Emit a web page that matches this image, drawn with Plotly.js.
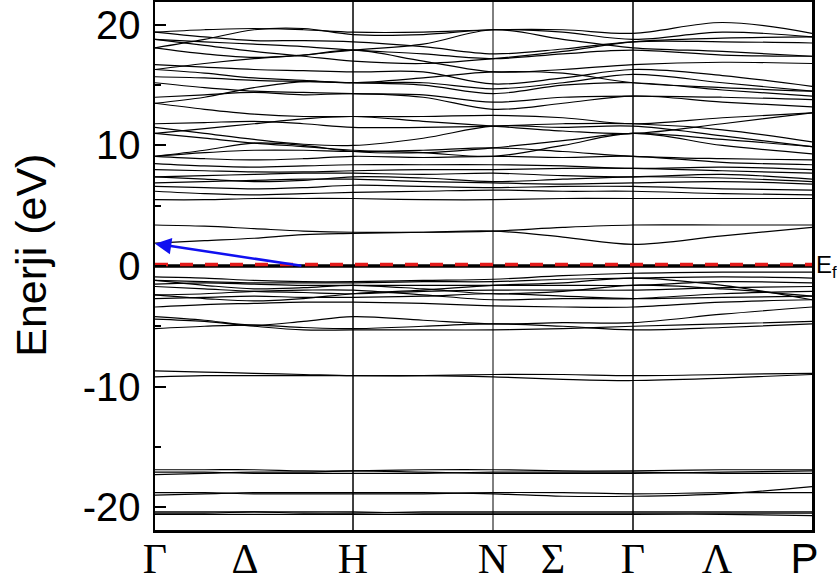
<!DOCTYPE html>
<html>
<head>
<meta charset="utf-8">
<script src="https://cdn.plot.ly/plotly-3.0.1.min.js"></script>
<style>html,body{margin:0;padding:0;background:#fff;}#chart{width:837px;height:586px;}</style>
</head>
<body>
<div id="chart"></div>
<script>
// k-path sample positions: Γ, .25, .5, .75, H, mid, N, mid, Γ, Λ-mid, P
const kpts = [0, 0.25, 0.5, 0.75, 1.0, 1.354, 1.707, 2.06, 2.414, 2.866, 3.318];
const symPos = [0, 0.455, 1.0, 1.707, 2.01, 2.414, 2.838, 3.28];
const symLabels = ['Γ', 'Δ', 'H', 'N', 'Σ', 'Γ', 'Λ', '<span style="font-family:Liberation Sans, Arial">P</span>'];
const vLines = [1.0, 1.707, 2.414];
const yTickVals = [-20, -10, 0, 10, 20];
const yTickText = ['-20', '-10', '0', '10', '20'];

const coreBands = [
  [-20.6, -20.6, -20.6, -20.6, -20.6, -20.6, -20.6, -20.6, -20.6, -20.6, -20.7],
  [-20.4, -20.4, -20.4, -20.5, -20.5, -20.4, -20.4, -20.4, -20.4, -20.4, -20.4],
  [-20.5, -20.5, -20.4, -20.4, -20.4, -20.5, -20.5, -20.5, -20.5, -20.5, -20.5],
  [-19.0, -18.9, -18.8, -18.8, -18.8, -18.8, -18.9, -19.1, -19.1, -18.9, -18.3],
  [-18.8, -18.8, -18.9, -18.9, -18.9, -18.9, -18.8, -18.8, -18.9, -18.8, -18.8],
  [-17.1, -17.1, -17.2, -17.2, -17.2, -17.2, -17.1, -17.1, -17.1, -17.2, -17.2],
  [-16.9, -16.9, -16.9, -17.0, -17.0, -16.9, -16.9, -17.0, -17.0, -16.9, -16.9],
  [-17.3, -17.2, -17.1, -17.1, -17.0, -17.1, -17.2, -17.2, -17.2, -17.1, -17.0],
  [-8.7, -8.8, -8.9, -9.0, -9.1, -9.1, -9.2, -9.4, -9.5, -9.3, -9.0],
  [-9.2, -9.1, -9.1, -9.1, -9.1, -9.1, -9.0, -9.0, -9.1, -9.0, -8.9]
];

const valenceBands = [
  [-0.9, -1.0, -1.2, -1.3, -1.3, -1.2, -1.1, -0.8, -0.6, -0.5, -0.5],
  [-1.2, -1.3, -1.4, -1.4, -1.4, -1.3, -1.3, -1.1, -1.0, -0.9, -1.0],
  [-1.5, -1.4, -1.5, -1.6, -1.6, -1.6, -1.6, -1.6, -1.6, -1.3, -1.4],
  [-1.7, -1.9, -2.1, -2.2, -2.3, -2.1, -2.0, -2.0, -2.0, -1.8, -1.7],
  [-2.4, -2.3, -2.1, -2.0, -2.0, -2.4, -2.8, -2.7, -2.7, -2.3, -2.1],
  [-2.7, -2.6, -2.5, -2.6, -2.6, -2.5, -2.3, -2.5, -2.7, -2.6, -2.5],
  [-3.4, -3.2, -3.1, -3.0, -3.0, -3.1, -3.3, -3.4, -3.4, -3.0, -2.8],
  [-4.2, -4.5, -4.9, -4.6, -4.2, -4.5, -4.8, -4.7, -4.7, -4.0, -3.4],
  [-5.2, -5.0, -4.9, -5.1, -5.2, -5.0, -4.8, -5.0, -5.3, -5.1, -4.8],
  [-4.4, -4.6, -5.0, -5.3, -5.3, -5.3, -5.3, -5.2, -5.0, -4.8, -4.6],
  [-1.2, -1.6, -1.9, -1.8, -1.6, -1.9, -2.3, -2.1, -1.6, -1.9, -2.5],
  [-2.4, -2.7, -2.9, -2.7, -2.3, -2.0, -1.6, -1.4, -1.0, -1.6, -2.8]
];

const conductionBands = [
  [1.9, 2.1, 2.3, 2.6, 2.7, 2.8, 2.9, 2.4, 1.8, 2.5, 3.2],
  [3.4, 3.3, 3.1, 2.9, 2.8, 2.8, 2.9, 3.2, 3.4, 3.4, 3.4],
  [5.5, 5.5, 5.6, 5.6, 5.6, 5.5, 5.5, 5.6, 5.6, 5.6, 5.6],
  [6.2, 6.0, 5.9, 6.0, 6.1, 6.2, 6.3, 6.2, 6.2, 6.0, 5.9],
  [6.6, 6.5, 6.4, 6.5, 6.7, 6.6, 6.5, 6.6, 6.6, 6.4, 6.3],
  [6.9, 7.0, 7.1, 7.2, 7.2, 7.0, 6.9, 6.8, 6.9, 7.0, 6.8],
  [7.4, 7.5, 7.6, 7.7, 7.7, 7.6, 7.7, 7.5, 7.4, 7.6, 7.2],
  [7.4, 7.2, 7.0, 7.1, 7.4, 7.3, 7.0, 7.2, 7.4, 7.3, 7.0],
  [8.0, 7.9, 7.8, 7.8, 7.9, 8.0, 8.0, 8.1, 8.1, 7.9, 7.7],
  [8.5, 8.3, 8.2, 8.3, 8.4, 8.4, 8.4, 8.3, 8.1, 8.2, 8.0],
  [9.1, 8.9, 8.8, 8.9, 9.1, 9.0, 9.1, 9.0, 9.1, 8.6, 8.4],
  [9.1, 9.4, 9.6, 9.6, 9.5, 9.6, 9.8, 9.5, 9.1, 8.9, 8.8],
  [9.1, 9.6, 10.2, 10.0, 9.5, 9.4, 9.8, 10.4, 11.0, 10.5, 9.9],
  [11.0, 10.6, 10.2, 9.9, 9.6, 9.4, 9.1, 10.0, 11.0, 10.0, 9.3],
  [11.5, 11.0, 10.5, 10.1, 10.0, 10.6, 11.6, 11.5, 11.6, 10.8, 9.9],
  [11.8, 11.9, 12.0, 11.8, 11.5, 11.5, 11.6, 11.8, 11.8, 11.3, 10.3],
  [11.0, 11.4, 11.8, 12.2, 12.4, 12.0, 11.6, 11.2, 11.0, 11.8, 12.7],
  [13.5, 13.0, 12.6, 12.4, 12.4, 12.4, 12.5, 12.3, 11.8, 12.3, 12.7],
  [13.5, 14.0, 14.8, 15.3, 15.2, 15.6, 16.1, 16.0, 15.2, 14.8, 14.5],
  [14.0, 14.2, 14.4, 14.2, 14.3, 14.0, 13.0, 13.5, 14.1, 13.6, 13.2],
  [15.2, 14.8, 14.5, 14.4, 14.3, 14.2, 13.6, 14.0, 14.1, 14.0, 13.8],
  [15.7, 15.6, 15.4, 15.3, 15.2, 15.0, 14.3, 15.0, 15.2, 14.6, 14.1],
  [16.3, 16.0, 15.6, 15.4, 15.2, 15.2, 14.7, 15.2, 15.9, 15.2, 14.5],
  [16.7, 16.5, 16.3, 16.2, 16.1, 16.1, 15.1, 15.6, 16.3, 15.8, 14.9],
  [16.3, 16.8, 17.2, 17.5, 17.9, 18.4, 19.6, 18.8, 18.1, 17.8, 17.4],
  [18.1, 17.6, 17.3, 17.5, 17.9, 17.0, 16.1, 16.3, 16.7, 16.9, 16.8],
  [18.8, 18.6, 18.4, 18.2, 17.9, 17.6, 17.2, 17.6, 17.9, 17.5, 17.4],
  [18.8, 18.3, 17.8, 17.4, 17.0, 16.8, 17.2, 17.8, 18.6, 18.9, 19.0],
  [19.4, 19.0, 18.7, 18.7, 18.6, 18.2, 17.6, 18.0, 18.6, 18.6, 18.5],
  [18.1, 18.8, 19.6, 19.7, 19.2, 19.2, 19.6, 19.4, 18.8, 19.4, 19.0],
  [19.4, 19.6, 19.7, 19.6, 19.4, 19.4, 19.6, 19.6, 19.3, 20.2, 19.3]
];

const fermiLevel = 0;
const arrowTail = [0.747, 0];
const arrowHead = [0, 1.85];
const yRange = [-21.9, 21.9];

const traces = [];
[coreBands, valenceBands, conductionBands].forEach(group => {
  group.forEach(b => traces.push({
    x: kpts, y: b, mode: 'lines', type: 'scatter',
    line: {color: '#000', width: 1.2, shape: 'spline'},
    hoverinfo: 'skip', showlegend: false
  }));
});
vLines.forEach((v, i) => traces.push({
  x: [v, v], y: yRange, mode: 'lines', line: {color: '#000', width: i === 1 ? 1 : 1.5},
  hoverinfo: 'skip', showlegend: false
}));
// Fermi level: black line with red dashes on top
traces.push({x: [kpts[0], kpts[kpts.length-1]], y: [fermiLevel, fermiLevel], mode: 'lines',
  line: {color: '#000', width: 3.5}, hoverinfo: 'skip', showlegend: false});
traces.push({x: [kpts[0], kpts[kpts.length-1]], y: [fermiLevel + 0.12, fermiLevel + 0.12], mode: 'lines',
  line: {color: '#e41a1a', width: 3.5, dash: '13px,12px'}, hoverinfo: 'skip', showlegend: false});

const layout = {
  width: 837, height: 586,
  margin: {l: 155, r: 25, t: 2, b: 56},
  paper_bgcolor: '#fff', plot_bgcolor: '#fff',
  showlegend: false,
  xaxis: {
    range: [kpts[0], kpts[kpts.length-1]],
    tickmode: 'array', tickvals: symPos, ticktext: symLabels,
    ticks: '', showgrid: false, zeroline: false,
    showline: true, mirror: true, linecolor: '#000', linewidth: 2.5,
    ticklabelstandoff: -10,
    tickfont: {family: 'Liberation Serif, Times New Roman, serif', size: 42, color: '#000'}
  },
  yaxis: {
    range: yRange,
    tickmode: 'array', tickvals: yTickVals, ticktext: yTickText,
    ticks: 'inside', ticklen: 11, tickwidth: 2, tickcolor: '#000',
    minor: {tickmode: 'array', tickvals: [-15, -5, 5, 15], ticks: 'inside', ticklen: 6, tickwidth: 2, tickcolor: '#000', showgrid: false},
    showgrid: false, zeroline: false,
    showline: true, mirror: true, linecolor: '#000', linewidth: 2.5,
    ticklabelstandoff: 4,
    tickfont: {family: 'Liberation Sans, Arial, sans-serif', size: 40, color: '#000'},
    title: {text: ''}
  },
  annotations: [
    {x: arrowHead[0], y: arrowHead[1], ax: arrowTail[0], ay: arrowTail[1], xref: 'x', yref: 'y', axref: 'x', ayref: 'y',
     showarrow: true, arrowhead: 2, arrowsize: 1.3, arrowwidth: 2.5, arrowcolor: '#1010f0', text: ''},
    {x: 1.003, y: fermiLevel, xref: 'paper', yref: 'y', xanchor: 'left', yanchor: 'middle', showarrow: false,
     text: 'E<sub>f</sub>', font: {family: 'Liberation Sans, Arial, sans-serif', size: 24, color: '#000'}},
    {x: -0.189, y: 0.521, xref: 'paper', yref: 'paper', xanchor: 'center', yanchor: 'middle', textangle: -90, showarrow: false,
     text: 'Enerji (eV)', font: {family: 'Liberation Sans, Arial, sans-serif', size: 43, color: '#000'}}
  ]
};

Plotly.newPlot('chart', traces, layout, {staticPlot: true, displayModeBar: false});
</script>
</body>
</html>
